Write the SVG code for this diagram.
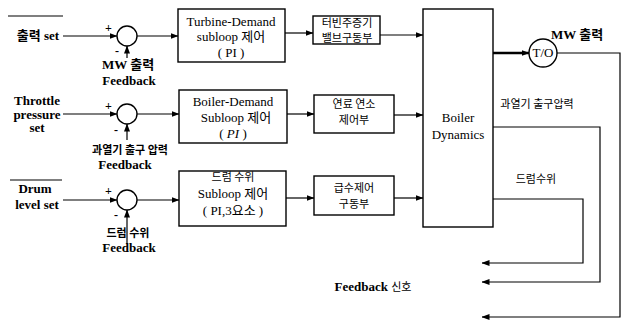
<svg xmlns="http://www.w3.org/2000/svg" width="626" height="321" viewBox="0 0 626 321">
<defs>
<marker id="ah" markerWidth="8" markerHeight="6" refX="7.5" refY="3" orient="auto" markerUnits="userSpaceOnUse">
<path d="M0,0 L8,3 L0,6 Z" fill="#000"/>
</marker>
<style>
.ln{stroke:#000;stroke-width:1.2;fill:none}
.bx{stroke:#000;stroke-width:1.4;fill:#fff}
.t{font-family:"Liberation Serif","Noto Sans CJK KR",serif;font-size:13px;fill:#000;text-anchor:middle}
.b{font-weight:bold}
.k{font-family:"Noto Sans CJK KR","Liberation Serif",sans-serif;font-size:11px;fill:#000;text-anchor:middle}
.s{font-family:"Liberation Serif",serif;font-size:12px;font-weight:bold;fill:#000}
</style>
</defs>
<rect width="626" height="321" fill="#fff"/>

<g id="connectors">
<line class="ln" x1="8" y1="16" x2="63" y2="16"/>
<line class="ln" x1="10" y1="180" x2="62" y2="180"/>
<line class="ln" x1="63" y1="36" x2="117" y2="36" marker-end="url(#ah)"/>
<line class="ln" x1="127" y1="58" x2="127" y2="46" marker-end="url(#ah)"/>
<line class="ln" x1="137" y1="36" x2="178" y2="36" marker-end="url(#ah)"/>
<line class="ln" x1="285" y1="33" x2="313" y2="33" marker-end="url(#ah)"/>
<line class="ln" x1="380" y1="35" x2="423" y2="35" marker-end="url(#ah)"/>

<line class="ln" x1="63" y1="114" x2="117" y2="114" marker-end="url(#ah)"/>
<line class="ln" x1="127" y1="140" x2="127" y2="124" marker-end="url(#ah)"/>
<line class="ln" x1="137" y1="114" x2="179" y2="114" marker-end="url(#ah)"/>
<line class="ln" x1="287" y1="114" x2="314" y2="114" marker-end="url(#ah)"/>
<line class="ln" x1="394" y1="115" x2="423" y2="115" marker-end="url(#ah)"/>

<line class="ln" x1="63" y1="200" x2="117" y2="200" marker-end="url(#ah)"/>
<line class="ln" x1="127" y1="244" x2="127" y2="210" marker-end="url(#ah)"/>
<line class="ln" x1="137" y1="200" x2="179" y2="200" marker-end="url(#ah)"/>
<line class="ln" x1="286" y1="198" x2="314" y2="198" marker-end="url(#ah)"/>
<line class="ln" x1="394" y1="198" x2="423" y2="198" marker-end="url(#ah)"/>

<line x1="493" y1="53" x2="529" y2="53" stroke="#000" stroke-width="2.4" marker-end="url(#ah)"/>
<polyline class="ln" points="557,53 620,53 620,317 482,317" marker-end="url(#ah)"/>
<polyline class="ln" points="493,127 600,127 600,282 482,282" marker-end="url(#ah)"/>
<polyline class="ln" points="493,199 583,199 583,263 482,263" marker-end="url(#ah)"/>
</g>

<g id="in1">
<text class="t b" x="38" y="40">출력 set</text>
</g>
<g id="sum1">
<circle class="bx" cx="127" cy="36" r="10"/>
<text class="s" x="105" y="32">+</text>
<text class="s" x="115" y="55">-</text>
<text class="t b" x="128" y="69" font-size="12">MW 출력</text>
<text class="t b" x="129" y="85" font-size="12">Feedback</text>
</g>
<g id="box1">
<rect class="bx" x="178" y="9" width="107" height="53"/>
<text class="t" x="231" y="26">Turbine-Demand</text>
<text class="t" x="231" y="41">subloop 제어</text>
<text class="t" x="231" y="57">( PI )</text>
</g>
<g id="box2">
<rect class="bx" x="313" y="16" width="67" height="28"/>
<text class="k" x="347" y="27" font-size="10">터빈주증기</text>
<text class="k" x="347" y="41.5" font-size="10">밸브구동부</text>
</g>

<g id="in2">
<text class="t b" x="37" y="105" font-size="11">Throttle</text>
<text class="t b" x="37" y="118.5" font-size="11">pressure</text>
<text class="t b" x="37" y="132" font-size="11">set</text>
</g>
<g id="sum2">
<circle class="bx" cx="127" cy="114" r="10"/>
<text class="s" x="105" y="110">+</text>
<text class="s" x="114" y="134">-</text>
<text class="k b" x="130" y="154" font-size="11.5">과열기 출구 압력</text>
<text class="t b" x="125" y="168.5" font-size="12">Feedback</text>
</g>
<g id="box3">
<rect class="bx" x="179" y="90" width="108" height="53"/>
<text class="t" x="233" y="106">Boiler-Demand</text>
<text class="t" x="236" y="122">Subloop 제어</text>
<text class="t" x="233" y="138">( <tspan font-style="italic">PI</tspan> )</text>
</g>
<g id="box4">
<rect class="bx" x="314" y="95" width="80" height="38"/>
<text class="k" x="354" y="107.5">연료 연소</text>
<text class="k" x="354" y="123.5">제어부</text>
</g>

<g id="in3">
<text class="t b" x="35" y="193">Drum</text>
<text class="t b" x="37" y="209">level set</text>
</g>
<g id="sum3">
<circle class="bx" cx="127" cy="200" r="10"/>
<text class="s" x="105" y="195">+</text>
<text class="s" x="114" y="219">-</text>
<text class="k b" x="128" y="237" font-size="11.5">드럼 수위</text>
<text class="t b" x="129" y="252" font-size="12">Feedback</text>
</g>
<g id="box5">
<rect class="bx" x="179" y="171" width="107" height="55"/>
<text class="k" x="233" y="181" font-size="12">드럼 수위</text>
<text class="t" x="233" y="198">Subloop 제어</text>
<text class="t" x="233" y="215">( PI,3요소 )</text>
</g>
<g id="box6">
<rect class="bx" x="314" y="176" width="80" height="39"/>
<text class="k" x="354" y="191.5">급수제어</text>
<text class="k" x="354" y="207.5">구동부</text>
</g>

<g id="boiler">
<rect class="bx" x="423" y="9" width="70" height="218"/>
<text class="t" x="458" y="122">Boiler</text>
<text class="t" x="458" y="139">Dynamics</text>
</g>
<g id="to">
<circle class="bx" cx="543" cy="53" r="14"/>
<text class="t" x="543" y="57" font-size="10">T/O</text>
</g>
<g id="labels">
<text class="t b" x="577" y="39" font-size="12" text-anchor="start">MW 출력</text>
<text class="k" x="537" y="108">과열기 출구압력</text>
<text class="k" x="536" y="183">드럼수위</text>
<text class="t b" x="373" y="291" font-size="12" text-anchor="start">Feedback <tspan font-family="Noto Sans CJK KR" font-weight="normal" font-size="11">신호</tspan></text>
</g>
</svg>
